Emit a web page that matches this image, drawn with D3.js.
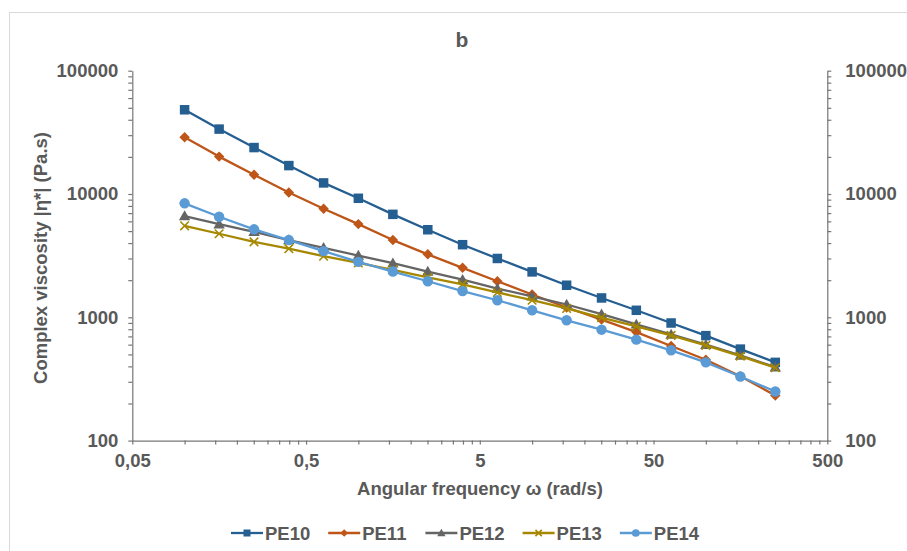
<!DOCTYPE html>
<html>
<head>
<meta charset="utf-8">
<script src="https://cdn.jsdelivr.net/npm/d3@7"></script>
<style>
  html, body { margin: 0; padding: 0; background: #fff; }
  svg { display: block; font-family: "Liberation Sans", Arial, sans-serif; }
</style>
</head>
<body>
<svg id="chart" width="907" height="551"></svg>
<script>
// ---- data ----
const title = "b";
const xTitle = "Angular frequency ω (rad/s)";
const yTitle = "Complex viscosity |η*| (Pa.s)";
const frequencies = [0.1, 0.158, 0.251, 0.398, 0.631, 1, 1.58, 2.51, 3.98, 6.31, 10, 15.8, 25.1, 39.8, 63.1, 100, 158, 251];
const seriesNames = ["PE10", "PE11", "PE12", "PE13", "PE14"];
const pe10 = [48200, 33600, 23800, 17000, 12300, 9230, 6840, 5130, 3880, 3000, 2335, 1820, 1435, 1140, 899, 710, 552, 431];
const pe11 = [28900, 20100, 14300, 10300, 7590, 5700, 4230, 3240, 2520, 1960, 1530, 1200, 958, 759, 585, 453, 333, 232];
const pe12 = [6630, 5700, 4940, 4230, 3660, 3170, 2750, 2350, 2020, 1710, 1480, 1270, 1060, 877, 727, 600, 491, 394];
const pe13 = [5520, 4760, 4090, 3600, 3130, 2760, 2430, 2110, 1850, 1590, 1375, 1180, 995, 845, 714, 592, 484, 390];
const pe14 = [8400, 6540, 5170, 4230, 3440, 2815, 2350, 1960, 1630, 1375, 1140, 946, 794, 659, 540, 431, 331, 250];
const xMajorTicks = [0.05, 0.5, 5, 50, 500];
const xTickLabels = ["0,05", "0,5", "5", "50", "500"];
const yMajorTicks = [100, 1000, 10000, 100000];
const yTickLabels = ["100", "1000", "10000", "100000"];
const colors = ["#255E91", "#BD5618", "#656565", "#A68800", "#5B9BD5"];
const symbols = ["square", "diamond", "triangle", "cross", "circle"];

// ---- layout ----
const svg = d3.select("#chart");
const textColor = "#595959";
const axisColor = "#767676";
const fontSize = 18.5;

// outer chart border
svg.append("rect").attr("x", 9.5).attr("y", 12.5).attr("width", 920).attr("height", 560)
  .attr("fill", "#fff").attr("stroke", "#d9d9d9").attr("stroke-width", 1);

const x = d3.scaleLog().domain([0.05, 500]).range([132.3, 827.3]);
const y = d3.scaleLog().domain([100, 100000]).range([440.6, 70.7]);

function minorTicks(majors) {
  const out = [];
  for (let i = 0; i < majors.length - 1; i++) {
    for (let k = 2; k <= 9; k++) out.push(majors[i] * k);
  }
  return out;
}
const xAllTicks = xMajorTicks.concat(minorTicks(xMajorTicks));
const yAllTicks = yMajorTicks.concat(minorTicks(yMajorTicks));

function styleAxis(g) {
  g.select(".domain").attr("stroke", axisColor).attr("stroke-width", 1.2);
  g.selectAll(".tick line").attr("stroke", axisColor).attr("stroke-width", 1.2);
  g.selectAll(".tick text").attr("fill", textColor).attr("font-size", fontSize)
    .attr("font-weight", "bold").attr("font-family", "Liberation Sans, Arial, sans-serif");
}

const xLabel = d => { const i = xMajorTicks.indexOf(d); return i >= 0 ? xTickLabels[i] : ""; };
const yLabel = d => { const i = yMajorTicks.indexOf(d); return i >= 0 ? yTickLabels[i] : ""; };

const gx = svg.append("g").attr("transform", `translate(0,${y(100)})`)
  .call(d3.axisBottom(x).tickValues(xAllTicks).tickFormat(xLabel).tickSizeInner(4).tickSizeOuter(0).tickPadding(9));
styleAxis(gx);

const gyl = svg.append("g").attr("transform", `translate(${x(0.05)},0)`)
  .call(d3.axisLeft(y).tickValues(yAllTicks).tickFormat(yLabel).tickSizeInner(4).tickSizeOuter(0).tickPadding(10));
styleAxis(gyl);

const gyr = svg.append("g").attr("transform", `translate(${x(500)},0)`)
  .call(d3.axisRight(y).tickValues(yAllTicks).tickFormat(yLabel).tickSizeInner(4).tickSizeOuter(0).tickPadding(14));
styleAxis(gyr);

// titles
svg.append("text").attr("x", 462).attr("y", 47).attr("text-anchor", "middle")
  .attr("fill", textColor).attr("font-size", 21).attr("font-weight", "bold").text(title);
svg.append("text").attr("x", 480).attr("y", 495).attr("text-anchor", "middle")
  .attr("fill", textColor).attr("font-size", fontSize).attr("font-weight", "bold").text(xTitle);
svg.append("text").attr("transform", `translate(47,258) rotate(-90)`).attr("text-anchor", "middle")
  .attr("fill", textColor).attr("font-size", fontSize).attr("font-weight", "bold").text(yTitle);

// markers
function drawMarker(g, type, cx, cy, color, s) {
  if (type === "square") {
    g.append("rect").attr("x", cx - s / 2).attr("y", cy - s / 2).attr("width", s).attr("height", s).attr("fill", color);
  } else if (type === "diamond") {
    const r = s * 0.55;
    g.append("path").attr("d", `M${cx},${cy - r}L${cx + r},${cy}L${cx},${cy + r}L${cx - r},${cy}Z`).attr("fill", color);
  } else if (type === "triangle") {
    const r = s * 0.6;
    g.append("path").attr("d", `M${cx},${cy - r}L${cx + r},${cy + r * 0.75}L${cx - r},${cy + r * 0.75}Z`).attr("fill", color);
  } else if (type === "cross") {
    const r = s * 0.45;
    g.append("path").attr("d", `M${cx - r},${cy - r}L${cx + r},${cy + r}M${cx - r},${cy + r}L${cx + r},${cy - r}`)
      .attr("stroke", color).attr("stroke-width", 1.6).attr("fill", "none");
  } else {
    g.append("circle").attr("cx", cx).attr("cy", cy).attr("r", s * 0.55).attr("fill", color);
  }
}

const allSeries = [pe10, pe11, pe12, pe13, pe14];
const line = d3.line().x(d => x(d[0])).y(d => y(d[1]));
allSeries.forEach((vals, si) => {
  const pts = frequencies.map((f, i) => [f, vals[i]]);
  const g = svg.append("g");
  g.append("path").datum(pts).attr("d", line).attr("fill", "none")
    .attr("stroke", colors[si]).attr("stroke-width", 2.3).attr("stroke-linejoin", "round");
  pts.forEach(p => drawMarker(g, symbols[si], x(p[0]), y(p[1]), colors[si], 9.5));
});

// legend
const legendY = 533;
seriesNames.forEach((name, i) => {
  const lx = 231 + i * 97.2;
  const g = svg.append("g");
  g.append("line").attr("x1", lx).attr("x2", lx + 32).attr("y1", legendY).attr("y2", legendY)
    .attr("stroke", colors[i]).attr("stroke-width", 2.3);
  drawMarker(g, symbols[i], lx + 16, legendY, colors[i], 7);
  g.append("text").attr("x", lx + 34).attr("y", legendY).attr("dy", "0.36em")
    .attr("fill", textColor).attr("font-size", fontSize).attr("font-weight", "bold").text(name);
});
</script>
</body>
</html>
